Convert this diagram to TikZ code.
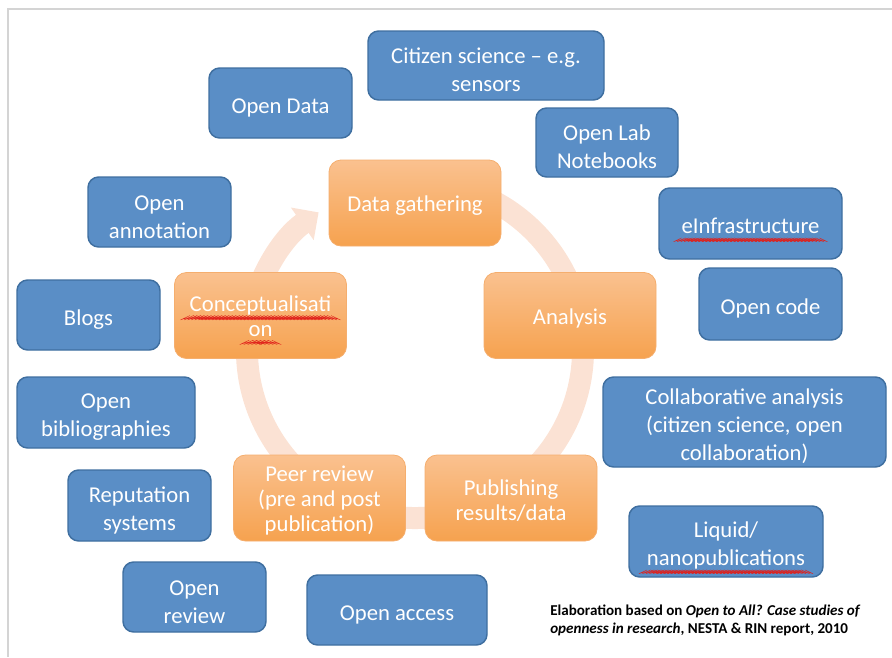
\documentclass[tikz,border=0pt]{standalone}
\usepackage{fontspec}
\setmainfont{Carlito}
\usepackage{xcolor}
\usetikzlibrary{arrows.meta,positioning,calc}

\definecolor{bluefill}{HTML}{5A8EC6}
\definecolor{blueline}{HTML}{3F6FA0}
\definecolor{orangetop}{HTML}{FAC18F}
\definecolor{orangebot}{HTML}{F6A24F}
\definecolor{orangeline}{HTML}{F5AE6E}
\definecolor{ringcol}{HTML}{FBE2D4}
\definecolor{framecol}{HTML}{D4D4D4}
\definecolor{spellred}{HTML}{E0201B}

% red wavy spelling mark
\newsavebox\spellbox
\newcommand\spellzig{\begin{pgfpicture}\pgfsetlinewidth{0.3pt}\pgfsetroundjoin\pgfsetroundcap\pgfsetstrokecolor{spellred}%
  \pgfpathmoveto{\pgfpointorigin}\pgfpathlineto{\pgfpoint{1.3pt}{0.6pt}}\pgfpathlineto{\pgfpoint{2.6pt}{0pt}}\pgfusepath{stroke}%
  \pgfresetboundingbox\pgfpathrectangle{\pgfpointorigin}{\pgfpoint{2.6pt}{0.6pt}}\pgfusepath{use as bounding box}\end{pgfpicture}}
\newcommand\spellwave[1]{\sbox\spellbox{#1}\rlap{\lower3.2pt\hbox to\wd\spellbox{\xleaders\hbox{\spellzig}\hfill}}\usebox\spellbox}

\begin{document}
\begin{tikzpicture}[
    x=0.75pt, y=-0.75pt,
    boxsize/.style 2 args={minimum width=#1*0.75pt, minimum height=#2*0.75pt},
    rows/.style={execute at begin node={\rule{0pt}{\dimexpr 21pt*#1-2.5pt\relax}}},
    stagerows/.style={execute at begin node={\rule{0pt}{\dimexpr 37pt*#1/2-3pt\relax}}},
    openbox/.style={rectangle, draw=blueline, fill=bluefill, line width=1.1pt, rounded corners=8pt, text=white, align=center, inner sep=1pt, font=\fontsize{17}{21}\selectfont, rows=1},
    stagebox/.style={rectangle, draw=orangeline, top color=orangetop, bottom color=orangebot, line width=0.6pt, rounded corners=9pt, text=white, align=center, inner sep=1pt, boxsize={172}{86}, font=\fontsize{17}{18.5}\selectfont, stagerows=1},
    ring/.style={draw=ringcol, line width=16.5pt, -{Triangle[width=29pt, length=15pt]}},
    note/.style={anchor=north west, align=left, inner sep=0pt, font=\bfseries\fontsize{11.3}{13.5}\selectfont}
]
    \useasboundingbox (0,0) rectangle (892,657);
    % Frame
    \draw[framecol, line width=1.2pt] (892,9) -- (8,9) -- (8,657);

    % Cycle ring
    \coordinate (ctr) at (415,350);
    \draw[ring] ([shift={(80:126pt)}]ctr) arc[start angle=80, end angle=-235, radius=126pt];

    % Stages
    \node[stagebox] (gather) at (415,203) {Data gathering};
    \node[stagebox] (analysis) at (570,315.5) {Analysis};
    \node[stagebox, stagerows=2] (publish) at (511,498) {Publishing\\results/data};
    \node[stagebox, stagerows=3] (peer) at (319.5,498) {Peer review\\(pre and post\\publication)};
    \node[stagebox, stagerows=2] (concept) at (260.5,315.5) {\spellwave{Conceptualisati}\\\spellwave{on}};

    % Open practices
    \node[openbox, boxsize={236}{69}, rows=2] (citizen) at (486,65.5) {Citizen science -- e.g.\\sensors};
    \node[openbox, boxsize={143}{70}] (data) at (280.5,103) {Open Data};
    \node[openbox, boxsize={142}{69}, rows=2] (lab) at (607,142.5) {Open Lab\\Notebooks};
    \node[openbox, boxsize={143}{70}, rows=2] (annot) at (159.5,212) {Open\\annotation};
    \node[openbox, boxsize={183}{71}] (infra) at (750.5,223.5) {\spellwave{eInfrastructure}};
    \node[openbox, boxsize={143}{72}] (code) at (770.5,304) {Open code};
    \node[openbox, boxsize={143}{70}] (blogs) at (88.5,315) {Blogs};
    \node[openbox, boxsize={178}{71}, rows=2] (biblio) at (106,412.5) {Open\\bibliographies};
    \node[openbox, boxsize={283}{90}, rows=3] (collab) at (744.5,422) {Collaborative analysis\\(citizen science, open\\collaboration)};
    \node[openbox, boxsize={143}{71}, rows=2] (reput) at (139.5,505.5) {Reputation\\systems};
    \node[openbox, boxsize={194}{71}, rows=2] (liquid) at (726,541.5) {Liquid/\\\spellwave{nanopublications}};
    \node[openbox, boxsize={143}{70}, rows=2] (review) at (194.5,597) {Open\\review};
    \node[openbox, boxsize={180}{70}] (access) at (397,610) {Open access};

    % Source
    \node[note] (source) at (550,605) {Elaboration based on \textit{Open to All? Case studies of}\\\textit{openness in research}, NESTA \& RIN report, 2010};
\end{tikzpicture}
\end{document}
